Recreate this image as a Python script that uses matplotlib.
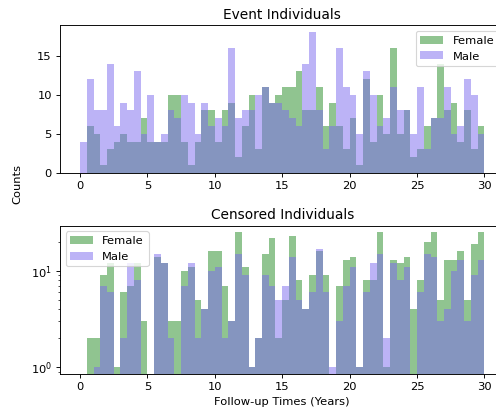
import numpy as np
import matplotlib
matplotlib.use('Agg')
import matplotlib.pyplot as plt

# counts per half-year bin, 0 to 30 years
bin_edges = np.linspace(0, 30, 61)

female_event = [0, 6, 5, 1, 3, 4, 5, 4, 4, 7, 4, 4, 4, 10, 10, 4, 1, 4, 8, 8,
                4, 8, 9, 2, 6, 10, 3, 11, 9, 10, 11, 11, 13, 8, 8, 11, 6, 9, 6, 3,
                7, 1, 12, 4, 10, 5, 16, 5, 8, 2, 3, 6, 7, 14, 8, 9, 4, 8, 3, 6]
male_event = [4, 12, 8, 8, 14, 6, 9, 8, 13, 5, 10, 4, 5, 8, 7, 10, 9, 5, 9, 6,
              7, 6, 16, 7, 8, 8, 10, 11, 9, 9, 8, 7, 6, 14, 18, 8, 3, 6, 16, 11,
              10, 5, 13, 10, 6, 7, 11, 8, 8, 5, 11, 3, 7, 7, 11, 5, 6, 12, 10, 5]

female_cens = [0, 2, 2, 9, 12, 1, 6, 7, 12, 3, 0, 14, 12, 3, 3, 10, 11, 5, 4, 16,
               16, 7, 3, 25, 11, 1, 2, 15, 22, 2, 5, 23, 8, 4, 9, 16, 9, 0, 7, 13,
               14, 1, 8, 8, 25, 1, 13, 12, 14, 4, 8, 20, 25, 5, 13, 13, 16, 5, 19, 25]
male_cens = [0, 0, 1, 7, 6, 0, 2, 12, 8, 0, 0, 15, 12, 2, 0, 7, 12, 2, 4, 10,
             11, 2, 3, 15, 9, 1, 2, 9, 7, 5, 7, 14, 5, 4, 6, 17, 6, 1, 3, 7,
             11, 1, 6, 12, 15, 2, 12, 8, 11, 0, 6, 15, 14, 3, 4, 10, 13, 3, 9, 13]

green = 'forestgreen'
purple = 'mediumslateblue'

fig = plt.figure(figsize=(6, 5.01), dpi=82.67)
ax1 = fig.add_axes([0.1206, 0.5821, 0.8968, 0.3563])
ax2 = fig.add_axes([0.1206, 0.0966, 0.8968, 0.3582])

centers = bin_edges[:-1] + 0.25

ax1.hist(centers, bins=bin_edges, weights=female_event, color=green, alpha=0.5, label='Female')
ax1.hist(centers, bins=bin_edges, weights=male_event, color=purple, alpha=0.5, label='Male')
ax1.set_title('Event Individuals')
ax1.legend(loc='upper right')

ax2.hist(centers, bins=bin_edges, weights=female_cens, color=green, alpha=0.5, label='Female', log=True)
ax2.hist(centers, bins=bin_edges, weights=male_cens, color=purple, alpha=0.5, label='Male', log=True)
ax2.set_title('Censored Individuals')
ax2.legend(loc='upper left')
ax2.set_xlabel('Follow-up Times (Years)')

for ax in (ax1, ax2):
    ax.set_xticks(np.arange(0, 31, 5))

fig.text(0.035, 0.555, 'Counts', rotation=90, ha='center', va='center', fontsize=10)

plt.savefig('out.png', dpi=82.67)
